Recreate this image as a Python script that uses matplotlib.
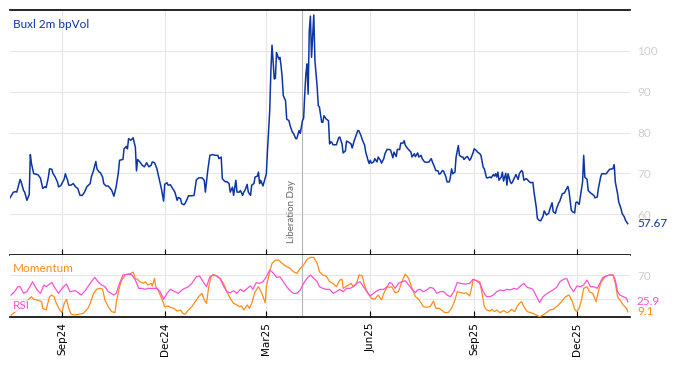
import matplotlib
matplotlib.use("Agg")
import matplotlib.pyplot as plt
import matplotlib.dates as mdates
import pandas as pd

# data: (calendar days since start, value)
start = pd.Timestamp("2024-07-17")
end = pd.Timestamp("2026-01-17")
liberation_day = pd.Timestamp("2025-04-02")

vol_pts = [
    (0, 64.0), (3, 65.4), (5, 65.5), (6, 65.4), (9, 68.5), (10, 67.8), (12, 65.8), (13, 65.4),
    (15, 63.4), (17, 64.8), (18, 74.6), (19, 72.4), (21, 69.9), (23, 69.8), (25, 69.6), (27, 68.8),
    (29, 66.3), (31, 66.7), (32, 66.5), (34, 69.1), (35, 71.1), (37, 71.0), (38, 70.0), (40, 69.1),
    (42, 67.9), (43, 66.7), (45, 67.0), (48, 68.6), (49, 69.9), (51, 68.3), (52, 67.1), (54, 67.1),
    (56, 67.5), (58, 66.7), (60, 66.3), (62, 64.6), (64, 64.6), (66, 65.4), (68, 66.7), (71, 67.5),
    (72, 69.1), (74, 70.7), (76, 72.9), (77, 71.1), (79, 70.3), (80, 70.2), (82, 69.1), (83, 67.5),
    (85, 66.9), (87, 66.9), (90, 65.9), (92, 64.4), (94, 66.7), (96, 70.3), (97, 73.2), (100, 73.4),
    (101, 76.0), (103, 76.6), (104, 76.0), (105, 78.5), (107, 78.1), (109, 78.7), (111, 76.4), (112, 70.6),
    (113, 73.4), (115, 72.8), (117, 72.0), (119, 71.6), (121, 72.6), (123, 71.6), (125, 72.0), (126, 72.8),
    (128, 72.6), (130, 71.2), (132, 68.7), (134, 66.3), (136, 63.2), (137, 67.3), (139, 67.7), (140, 67.1),
    (142, 67.2), (144, 66.3), (146, 65.4), (148, 63.4), (149, 64.1), (151, 63.8), (152, 62.6), (154, 62.3),
    (155, 62.6), (157, 63.8), (158, 64.5), (161, 64.5), (163, 64.6), (165, 68.4), (167, 68.9), (170, 68.9),
    (172, 68.3), (173, 65.4), (175, 70.5), (177, 74.4), (179, 74.6), (182, 74.4), (184, 74.4), (185, 73.6),
    (187, 74.0), (188, 68.7), (190, 68.1), (191, 67.9), (192, 68.0), (194, 67.5), (195, 65.4), (197, 66.6),
    (198, 64.6), (200, 68.3), (201, 65.4), (203, 65.4), (204, 65.8), (206, 64.6), (207, 65.4), (208, 65.8),
    (210, 67.3), (211, 65.4), (213, 64.6), (214, 67.1), (216, 67.5), (217, 69.1), (219, 69.3), (220, 70.3),
    (221, 67.5), (222, 68.3), (224, 66.9), (225, 67.9), (227, 69.9), (228, 75.6), (230, 85.4), (231, 95.1),
    (232, 101.4), (233, 97.1), (234, 93.1), (235, 93.3), (236, 99.6), (238, 98.0), (239, 98.4), (240, 96.4),
    (241, 93.5), (242, 89.0), (244, 87.8), (245, 83.3), (247, 82.9), (248, 81.7), (250, 80.1), (251, 79.8),
    (253, 78.5), (254, 78.5), (256, 80.5), (257, 79.8), (259, 82.9), (260, 83.5), (261, 89.4), (262, 94.3),
    (263, 96.8), (264, 89.4), (265, 104.9), (266, 108.5), (267, 98.4), (269, 108.8), (270, 97.6), (272, 91.1),
    (273, 86.6), (274, 86.2), (276, 82.5), (277, 82.5), (278, 84.1), (280, 83.3), (282, 82.9), (283, 77.2),
    (284, 77.7), (285, 77.6), (286, 77.0), (288, 77.0), (289, 77.0), (291, 78.7), (292, 78.9), (294, 77.2),
    (295, 75.0), (297, 75.5), (298, 77.9), (300, 77.6), (302, 77.2), (303, 76.2), (305, 78.2), (306, 78.9),
    (308, 80.5), (309, 80.4), (311, 79.1), (312, 78.2), (314, 76.9), (315, 75.2), (317, 73.2), (318, 72.4),
    (319, 73.2), (320, 72.5), (322, 72.8), (323, 73.6), (325, 72.8), (326, 74.0), (328, 73.2), (329, 72.5),
    (331, 73.6), (332, 74.8), (334, 75.9), (336, 75.8), (337, 75.7), (339, 73.8), (340, 75.2), (342, 74.1),
    (343, 75.9), (345, 75.8), (346, 77.4), (348, 77.4), (349, 78.0), (350, 76.9), (352, 76.1), (353, 75.8),
    (355, 75.2), (356, 74.0), (358, 74.8), (359, 74.1), (361, 75.0), (362, 74.0), (364, 74.4), (365, 73.6),
    (367, 72.8), (369, 72.7), (371, 72.8), (373, 73.6), (374, 72.8), (376, 71.5), (377, 70.7), (379, 70.6),
    (380, 69.8), (381, 69.9), (383, 70.7), (384, 70.5), (386, 69.1), (387, 67.9), (389, 67.9), (390, 69.1),
    (391, 71.1), (392, 69.9), (394, 70.3), (395, 74.0), (397, 76.8), (398, 74.4), (400, 74.0), (401, 74.0),
    (402, 73.4), (404, 74.0), (405, 74.1), (407, 73.2), (408, 73.6), (410, 75.0), (411, 76.0), (413, 75.6),
    (414, 75.2), (416, 74.8), (417, 74.4), (419, 71.5), (420, 71.1), (422, 68.9), (423, 68.9), (425, 69.1),
    (426, 68.9), (428, 69.7), (429, 69.3), (430, 69.9), (431, 69.1), (432, 70.3), (433, 68.3), (435, 69.1),
    (436, 70.3), (437, 68.1), (439, 70.0), (440, 67.1), (441, 69.9), (443, 67.9), (444, 67.5), (445, 67.9),
    (447, 69.1), (448, 69.7), (450, 68.5), (451, 69.9), (453, 70.7), (454, 70.3), (455, 68.3), (457, 68.7),
    (458, 68.5), (460, 67.9), (461, 67.7), (463, 67.8), (464, 65.4), (466, 61.7), (467, 58.9), (469, 58.4),
    (470, 58.4), (472, 59.5), (473, 60.8), (475, 59.8), (477, 60.2), (478, 61.2), (480, 62.8), (481, 60.6),
    (483, 60.2), (484, 61.4), (486, 62.8), (487, 63.3), (489, 65.0), (491, 65.2), (492, 65.8), (494, 66.8),
    (495, 65.6), (497, 61.0), (498, 60.6), (500, 60.3), (501, 62.8), (502, 63.0), (504, 62.4), (505, 64.2),
    (507, 67.9), (508, 74.4), (509, 69.1), (511, 68.5), (512, 65.8), (514, 65.2), (515, 65.0), (517, 64.6),
    (518, 64.0), (520, 64.2), (521, 66.3), (523, 69.1), (524, 69.9), (525, 69.9), (528, 69.9), (529, 70.3),
    (531, 71.0), (532, 71.0), (534, 71.2), (535, 72.1), (536, 67.9), (538, 65.0), (539, 63.0), (541, 61.4),
    (542, 60.2), (544, 59.3), (545, 58.5), (547, 57.67),
]

mom_pts = [
    (1, 3.9), (9, 15.0), (16, 28.9), (19, 34.4), (21, 30.0), (24, 28.9), (28, 26.1), (29, 15.0),
    (32, 12.2), (35, 34.4), (37, 37.2), (39, 34.4), (41, 23.3), (44, 12.2), (46, 8.3), (48, 23.3),
    (50, 30.0), (52, 15.0), (54, 5.6), (57, 3.9), (61, 5.0), (65, 6.7), (69, 15.0), (71, 23.3),
    (74, 40.0), (77, 47.2), (80, 48.3), (82, 46.7), (84, 28.9), (87, 17.8), (90, 9.4), (93, 7.8),
    (94, 23.3), (97, 51.1), (99, 62.2), (102, 70.6), (105, 72.2), (107, 73.3), (109, 75.6), (111, 65.0),
    (113, 63.3), (115, 59.4), (118, 56.7), (120, 59.4), (122, 53.9), (125, 56.7), (126, 52.2), (128, 65.0),
    (129, 51.1), (131, 45.6), (133, 37.2), (136, 23.3), (137, 17.8), (140, 18.9), (142, 16.7), (145, 15.0),
    (148, 10.6), (151, 12.2), (153, 6.7), (155, 5.0), (158, 12.2), (161, 17.8), (164, 26.1), (167, 34.4),
    (170, 40.0), (172, 28.9), (174, 23.3), (176, 51.1), (178, 67.8), (180, 71.7), (183, 68.9), (186, 65.0),
    (189, 56.7), (192, 42.8), (195, 31.7), (198, 23.3), (201, 20.6), (203, 17.8), (205, 18.9), (207, 12.2),
    (210, 20.6), (212, 15.0), (214, 23.3), (217, 42.8), (220, 51.1), (223, 40.0), (226, 24.4), (227, 51.1),
    (230, 76.1), (232, 90.0), (235, 95.6), (238, 95.6), (241, 90.0), (244, 85.6), (248, 81.7), (251, 76.1),
    (254, 73.3), (257, 81.7), (260, 87.2), (263, 96.7), (266, 100.0), (269, 100.0), (272, 90.0), (274, 76.1),
    (277, 70.6), (280, 68.9), (283, 59.4), (286, 56.7), (289, 51.1), (292, 62.2), (294, 63.3), (295, 48.3),
    (298, 52.2), (300, 53.9), (302, 56.7), (304, 51.1), (307, 56.7), (309, 70.6), (312, 68.9), (314, 52.2),
    (317, 40.0), (320, 31.7), (323, 30.0), (326, 37.2), (329, 28.9), (331, 40.0), (334, 51.1), (336, 50.0),
    (338, 51.1), (341, 41.1), (344, 42.8), (347, 59.4), (350, 72.2), (353, 65.0), (356, 48.3), (359, 34.4),
    (361, 31.7), (363, 27.2), (366, 17.8), (369, 16.7), (372, 17.8), (375, 27.2), (377, 15.0), (380, 15.0),
    (382, 12.2), (385, 7.8), (388, 7.8), (391, 15.0), (394, 28.9), (396, 42.8), (399, 41.1), (402, 40.0),
    (404, 41.1), (407, 35.6), (409, 51.1), (410, 63.3), (413, 61.1), (416, 59.4), (418, 40.0), (420, 17.8),
    (422, 12.2), (425, 10.6), (427, 13.3), (429, 9.4), (431, 12.2), (434, 7.8), (437, 11.1), (440, 7.8),
    (442, 9.4), (444, 13.3), (447, 9.4), (449, 17.8), (451, 23.3), (453, 26.1), (455, 17.8), (458, 9.4),
    (461, 7.8), (464, 5.6), (467, 2.8), (469, 1.1), (472, 3.9), (475, 7.8), (478, 12.2), (481, 13.3),
    (484, 17.8), (487, 23.3), (490, 30.0), (492, 34.4), (495, 37.2), (498, 26.1), (500, 13.3), (502, 9.4),
    (504, 15.0), (506, 28.9), (508, 48.3), (511, 51.1), (513, 42.8), (516, 40.0), (519, 26.1), (521, 42.8),
    (523, 56.7), (525, 63.3), (528, 68.9), (531, 70.6), (534, 70.6), (536, 56.7), (538, 34.4), (540, 28.9),
    (543, 20.6), (546, 15.0), (547, 9.1),
]

rsi_pts = [
    (1, 37.2), (4, 42.8), (7, 51.1), (9, 51.1), (12, 40.0), (15, 42.8), (20, 59.4), (24, 45.6),
    (27, 40.0), (30, 53.9), (32, 51.1), (37, 58.3), (40, 48.3), (43, 40.0), (46, 48.3), (50, 55.6),
    (53, 42.8), (58, 44.4), (61, 40.0), (63, 37.2), (67, 45.6), (71, 56.7), (75, 66.7), (78, 59.4),
    (81, 53.9), (84, 51.1), (87, 42.8), (92, 37.2), (94, 40.0), (97, 56.7), (100, 70.6), (105, 72.2),
    (108, 70.6), (111, 62.2), (114, 48.3), (117, 48.3), (120, 46.7), (122, 48.3), (125, 48.3), (130, 48.3),
    (133, 42.8), (136, 30.0), (139, 40.0), (142, 46.7), (146, 42.8), (149, 40.0), (153, 46.7), (158, 51.1),
    (161, 56.7), (165, 67.8), (168, 68.9), (171, 59.4), (174, 51.1), (177, 67.8), (180, 70.6), (183, 68.9),
    (186, 65.0), (189, 52.2), (192, 42.8), (195, 41.1), (198, 44.4), (201, 40.0), (204, 46.7), (207, 42.8),
    (210, 48.3), (213, 52.2), (215, 46.7), (218, 57.8), (221, 56.7), (224, 59.4), (227, 67.8), (230, 78.9),
    (233, 74.4), (236, 66.7), (239, 67.8), (241, 62.2), (245, 51.1), (248, 44.4), (251, 40.0), (254, 40.0),
    (257, 45.6), (260, 56.7), (263, 65.0), (266, 70.6), (269, 65.0), (272, 59.4), (274, 51.1), (277, 48.3),
    (280, 46.7), (283, 46.7), (286, 40.0), (289, 42.8), (292, 46.7), (295, 42.8), (298, 48.3), (301, 48.3),
    (304, 51.1), (307, 56.7), (310, 59.4), (313, 51.1), (316, 42.8), (319, 35.6), (322, 40.0), (325, 44.4),
    (328, 46.7), (331, 46.7), (334, 51.1), (336, 57.8), (338, 56.7), (341, 48.3), (344, 56.7), (347, 59.4),
    (350, 61.1), (353, 53.9), (356, 46.7), (359, 41.1), (361, 45.6), (363, 46.7), (366, 42.8), (369, 45.6),
    (372, 50.0), (375, 48.3), (378, 40.0), (381, 42.8), (384, 42.8), (387, 37.2), (390, 34.4), (393, 42.8),
    (396, 57.8), (399, 56.7), (402, 55.6), (404, 55.6), (407, 56.7), (410, 63.3), (413, 61.1), (416, 56.7),
    (419, 42.8), (422, 34.4), (425, 34.4), (428, 37.2), (431, 42.8), (434, 45.6), (437, 44.4), (440, 46.7),
    (443, 45.6), (446, 48.3), (449, 46.7), (452, 52.2), (455, 56.7), (458, 50.0), (461, 48.3), (463, 46.7),
    (466, 35.6), (469, 24.4), (472, 34.4), (475, 38.9), (478, 42.8), (481, 45.6), (484, 50.0), (487, 59.4),
    (490, 63.3), (493, 65.0), (496, 51.1), (499, 42.8), (502, 52.2), (505, 51.1), (508, 53.9), (511, 62.2),
    (514, 51.1), (517, 51.1), (520, 48.3), (523, 59.4), (525, 66.7), (528, 68.9), (531, 70.6), (534, 70.6),
    (536, 62.2), (538, 42.8), (540, 37.2), (543, 34.4), (546, 31.7), (547, 25.9),
]

vol_ticks = [60, 70, 80, 90, 100]
osc_ticks = [30, 70]

BLUE = "#0d35a3"
ORANGE = "#ff8c1a"
PINK = "#ff4fd6"
GRID = "#e6e6e6"
TICKLBL = "#cfcfcf"
LBLFONT = "Lato"


def unzip(pts):
    days, vals = zip(*pts)
    return start + pd.to_timedelta(list(days), unit="D"), list(vals)


vol_x, vol_y = unzip(vol_pts)
mom_x, mom_y = unzip(mom_pts)
rsi_x, rsi_y = unzip(rsi_pts)

fig = plt.figure(figsize=(6.74, 3.66), dpi=100)
ax = fig.add_axes([10 / 674, 1 - 255 / 366, 620 / 674, 245 / 366])
ax2 = fig.add_axes([10 / 674, 1 - 317 / 366, 620 / 674, 62 / 366], sharex=ax)

# top panel: vol
ax.plot(vol_x, vol_y, color=BLUE, lw=1.1, zorder=3)
ax.set_ylim(50, 110)
ax.set_yticks(vol_ticks)

# bottom panel: momentum / RSI
ax2.plot(mom_x, mom_y, color=ORANGE, lw=0.9, zorder=3)
ax2.plot(rsi_x, rsi_y, color=PINK, lw=0.9, zorder=3)
ax2.set_ylim(0.5, 104)
ax2.set_yticks(osc_ticks)

ax.set_xlim(start, end)
ax2.xaxis.set_major_locator(mdates.MonthLocator(bymonth=[3, 6, 9, 12]))
ax2.xaxis.set_major_formatter(mdates.DateFormatter("%b%y"))

for a in (ax, ax2):
    a.grid(True, color=GRID, lw=0.8, zorder=0)
    a.set_axisbelow(True)
    a.yaxis.tick_right()
    a.tick_params(axis="y", length=0, pad=5, labelsize=8.5, labelcolor=TICKLBL)
    for lbl in a.get_yticklabels():
        lbl.set_fontfamily(LBLFONT)
    a.tick_params(axis="x", direction="in", length=4, width=0.8, color="black")
    a.spines["left"].set_visible(False)
    a.spines["right"].set_visible(False)
    a.axvline(liberation_day, color="#b4b4b4", lw=0.8, zorder=2)

ax.spines["top"].set_linewidth(1.2)
ax.spines["bottom"].set_linewidth(1.2)
ax2.spines["top"].set_visible(False)
ax2.spines["bottom"].set_linewidth(1.2)
ax.tick_params(axis="x", labelbottom=False)
ax2.tick_params(axis="x", labelsize=7.5, labelrotation=90, pad=4)

# labels
ax.text(0.005, 0.94, "Buxl 2m bpVol", transform=ax.transAxes, color=BLUE,
        fontsize=8.5, family=LBLFONT, va="center", ha="left")
ax2.text(0.005, 0.79, "Momentum", transform=ax2.transAxes, color=ORANGE,
         fontsize=8.5, family=LBLFONT, va="center", ha="left", zorder=5,
         bbox=dict(facecolor="white", edgecolor="none", alpha=0.7, pad=0.5))
ax2.text(0.005, 0.18, "RSI", transform=ax2.transAxes, color=PINK,
         fontsize=8.5, family=LBLFONT, va="center", ha="left", zorder=5,
         bbox=dict(facecolor="white", edgecolor="none", alpha=0.7, pad=0.5))

ax.annotate("Liberation Day", xy=(liberation_day, 0.05), xycoords=("data", "axes fraction"),
            xytext=(-5, 0), textcoords="offset points", rotation=90, ha="right", va="bottom",
            fontsize=7, color="#666666", family=LBLFONT)

# last values, drawn over the faint axis labels
box = dict(facecolor="white", edgecolor="none", pad=0.3)
ax.annotate(f"{vol_y[-1]:.2f}", xy=(1, vol_y[-1]), xycoords=("axes fraction", "data"),
            xytext=(5, 0), textcoords="offset points", va="center", color=BLUE,
            fontsize=8.5, family=LBLFONT, bbox=box, annotation_clip=False)
ax2.annotate(f"{rsi_y[-1]:.1f}", xy=(1, rsi_y[-1]), xycoords=("axes fraction", "data"),
             xytext=(5, 0), textcoords="offset points", va="center", color=PINK,
             fontsize=8.5, family=LBLFONT, bbox=box, annotation_clip=False)
ax2.annotate(f"{mom_y[-1]:.1f}", xy=(1, mom_y[-1]), xycoords=("axes fraction", "data"),
             xytext=(5, 0), textcoords="offset points", va="center", color=ORANGE,
             fontsize=8.5, family=LBLFONT, bbox=box, annotation_clip=False)

fig.savefig("out.png", dpi=100)
